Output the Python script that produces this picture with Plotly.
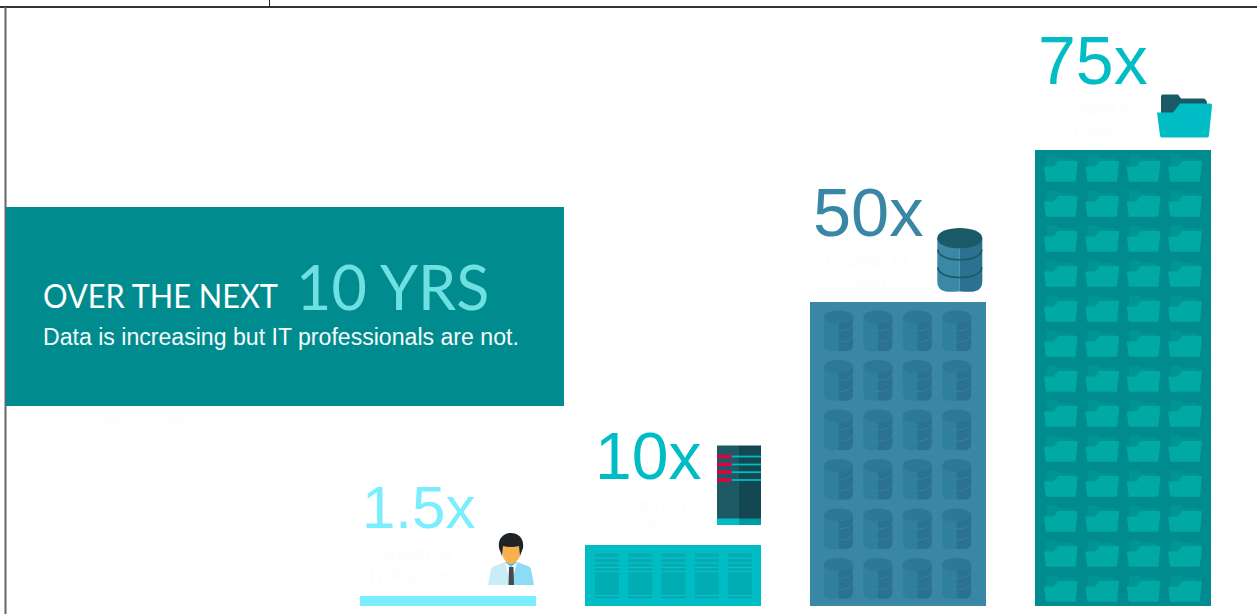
import plotly.graph_objects as go

# Growth multiples over ten years
categories = ["IT Admins", "Servers", "Data", "Files"]
growth = [1.5, 10, 50, 75]
growth_labels = ["1.5x", "10x", "50x", "75x"]
caption_lines = [["Growth in", "IT Admins"], ["Growth in", "Servers"], ["Growth in", "Data"], ["Growth in", "Files"]]
bar_colors = ["#7AEEFF", "#00BCC4", "#3A87A5", "#008C8F"]
label_colors = ["#7AEEFF", "#00BCC4", "#3A87A5", "#00BCC4"]

PX_PER_UNIT = 6.07
BASELINE = 605.5
W, H = 1257, 614
PLAIN = "Liberation Sans"
HEAD = "Lato"

fig = go.Figure()
fig.add_trace(go.Bar(
    x=[448, 673, 898, 1123], y=growth, width=175.5, yaxis="y2",
    marker=dict(color=bar_colors, line=dict(width=0)),
    name="Growth", hoverinfo="skip", showlegend=False,
))

shapes = []


def add_path(d, color):
    shapes.append(dict(type="path", path=d, xref="x", yref="y", fillcolor=color, line=dict(width=0)))


def add_rect(x0, y0, x1, y1, color):
    shapes.append(dict(type="rect", x0=x0, y0=y0, x1=x1, y1=y1, xref="x", yref="y",
                       fillcolor=color, line=dict(width=0)))


def folder(x, y, s, back, front):
    """Open folder; s=1 is 55 px wide."""
    p = lambda a, b: f"{x + a * s:.1f},{y + b * s:.1f}"
    add_path(f"M{p(4, 2)} Q{p(4, 0)} {p(6, 0)} L{p(21, 0)} L{p(24, 4)} L{p(46, 4)} Q{p(49, 4)} {p(50, 8)} "
             f"L{p(50, 20)} L{p(4, 20)} Z", back)
    add_path(f"M{p(0, 18)} L{p(16, 18)} L{p(23, 9)} L{p(53, 9)} Q{p(55, 9)} {p(55, 11)} L{p(52, 41)} "
             f"Q{p(52, 43)} {p(50, 43)} L{p(5, 43)} Q{p(3, 43)} {p(3, 41)} Z", front)


def cylinder(x, y, w, h, top, left, right, band, band_width):
    """Stacked disk cylinder split into a lit and a shaded half."""
    cap = h * 0.16
    mid = x + w / 2
    r = x + w
    k = cap * 1.33
    bot = y + h - cap
    add_path(f"M{x},{y + cap} L{x},{bot} C{x},{bot + k} {mid - w * .18},{y + h} {mid},{y + h} L{mid},{y + cap} Z", left)
    add_path(f"M{r},{y + cap} L{r},{bot} C{r},{bot + k} {mid + w * .18},{y + h} {mid},{y + h} L{mid},{y + cap} Z", right)
    for f in (0.5, 0.78):
        yy = y + h * f - cap
        shapes.append(dict(type="path", xref="x", yref="y", line=dict(color=band, width=band_width),
                           path=f"M{x + .5},{yy} C{x + .5},{yy + k} {r - .5},{yy + k} {r - .5},{yy}"))
    add_path(f"M{x},{y + cap} C{x},{y - cap * .33} {r},{y - cap * .33} {r},{y + cap} "
             f"C{r},{y + cap + k} {x},{y + cap + k} {x},{y + cap} Z", top)


# Tiled pictograms inside the bars
for r in range(13):
    for c in range(4):
        folder(1044 + 41.4 * c, 155.5 + 35 * r, 0.61, "#009492", "#00A9A4")
for r in range(6):
    for c in range(4):
        cylinder(824 + 39.4 * c, 310.5 + 49.5 * r, 29, 40.5, "#2D7896", "#307F9C", "#2A7290", "#3482A0", 1)
for c in range(5):
    x = 595 + 33.2 * c
    add_rect(x, 553.5, x + 24, 598.5, "#00ADB5")
    for yy in (558, 563, 567.5, 571.5, 595.5):
        add_rect(x, yy - 0.5, x + 24, yy + 0.5, "#14C0C8")

# Folder beside the 75x label
folder(1157, 94.5, 1, "#1A5966", "#00BCC4")

# Database beside the 50x label
cylinder(937.3, 228, 45, 63.5, "#1A5B67", "#3A88A6", "#2A7290", "#1A5B67", 1.5)

# Server rack beside the 10x label
add_rect(717, 445.5, 739, 525, "#1E5A66")
add_rect(739, 445.5, 761, 525, "#134852")
add_rect(717, 518.5, 739, 525, "#00BCC4")
add_rect(739, 518.5, 761, 525, "#009AA2")
for yy in (456.5, 464.5, 472.2, 480):
    add_rect(717, yy - 1.7, 731.7, yy + 1.7, "#E4003F")
    add_rect(731.7, yy - 0.9, 761, yy + 0.9, "#00BCC4")

# Admin figure beside the 1.5x label
add_path("M488,585 L491,569 Q492,566 497,565 L505,562 L511,585 Z", "#C9ECF7")
add_path("M534,585 L531,569 Q530,566 525,565 L517,562 L511,585 Z", "#8CDCF3")
add_path("M505,562 L517,562 L511,567 Z", "#3CC8EA")
add_path("M509,567 L513.5,567 L514,585 L508.5,585 Z", "#454A50")
add_path("M502,545 L520.5,545 L520,556 Q516,564 511,564 Q506,564 502.5,556 Z", "#F8B04C")
add_path("M499,548 C496,528 526,528 523,548 L520,556 L519,546 Q511,548 503,546 L502,556 Z", "#1F2326")

# Frame lines along the top and left
add_rect(0, 6, W, 8, "#333333")
add_rect(4.5, 7, 6.5, H, "#666666")
add_rect(269, 0, 270, 7, "#222222")

# Headline panel
add_rect(6, 207, 564, 406, "#008C8F")

annotations = []


def text(x, y, s, size, color, family=PLAIN, anchor="left"):
    annotations.append(dict(x=x, y=y, text=s, xref="x", yref="y", showarrow=False,
                            xanchor=anchor, yanchor="middle", align=anchor,
                            font=dict(size=size, color=color, family=family)))


text(41, 295.5, "OVER THE NEXT", 32.5, "#FFFFFF", HEAD)
text(294, 286, "10 YRS", 61, "#6FE0E2", HEAD)
text(41, 337, "Data is increasing but IT professionals are not.", 23.1, "#F4FBFB", PLAIN)
text(42, 419, "Source: IDC Digital Universe Study", 9.3, "#FBFEFB", PLAIN)

for x, y, label, color, size in zip([360, 593, 810.5, 1036], [507, 456, 212, 60], growth_labels, label_colors,
                                    [60, 66, 68.5, 68]):
    text(x, y, label, size, color)

CAPTION = "#FBFEFB"
caption_pos = [(367, 553, "left"), (644, 503, "center"), (866, 260, "center"), (1094, 108, "center")]
for (x, y, anchor), lines in zip(caption_pos, caption_lines):
    for i, line in enumerate(lines):
        text(x, y + 22.5 * i, line, 19, CAPTION, anchor=anchor)

fig.update_layout(
    width=W, height=H, margin=dict(l=0, r=0, t=0, b=0),
    paper_bgcolor="#FFFFFF", plot_bgcolor="#FFFFFF",
    xaxis=dict(range=[0, W], visible=False, fixedrange=True),
    yaxis=dict(range=[H, 0], visible=False, fixedrange=True),
    yaxis2=dict(range=[(BASELINE - H) / PX_PER_UNIT, BASELINE / PX_PER_UNIT], overlaying="y",
                visible=False, fixedrange=True),
    shapes=shapes, annotations=annotations, showlegend=False, bargap=0,
)

# The headline lead-in is set slightly condensed: squeeze its glyphs to the wanted run length
condense = """
document.querySelectorAll('.annotation-text').forEach(function (t) {
  if (t.textContent === 'OVER THE NEXT') {
    t.setAttribute('textLength', '235');
    t.setAttribute('lengthAdjust', 'spacingAndGlyphs');
  }
});
"""
fig.write_html("out.html", config=dict(displayModeBar=False), post_script=condense)
